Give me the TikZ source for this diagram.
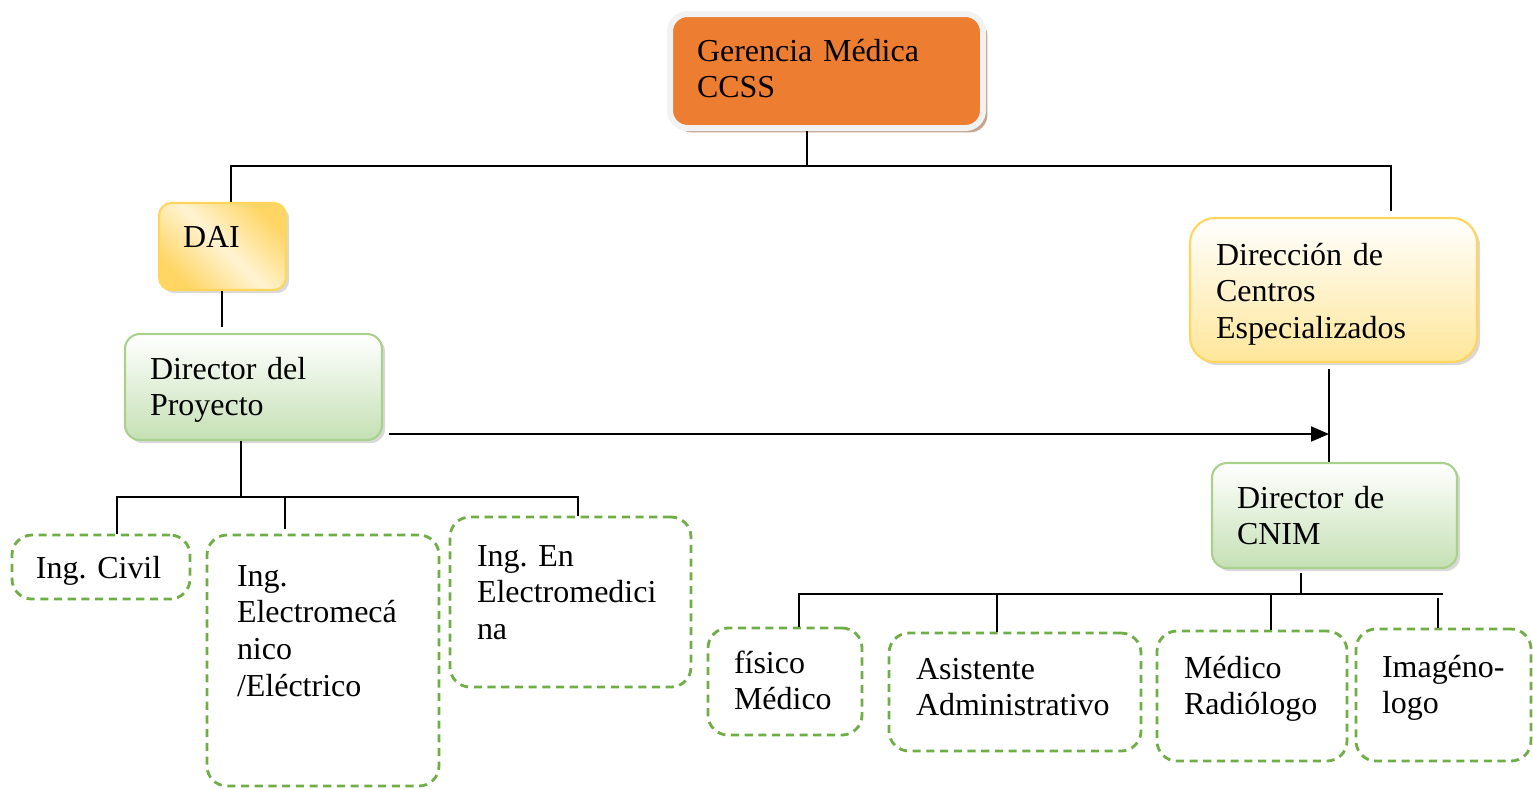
\documentclass[tikz,border=0pt]{standalone}
\usepackage{fontspec}
\setmainfont{Liberation Serif}
\usetikzlibrary{shapes, arrows.meta, calc, positioning, shadows}

\definecolor{gmorange}{HTML}{ED7D31}
\definecolor{gmrim}{HTML}{F2F2F2}
\definecolor{gmshadow}{HTML}{C4A48E}
\definecolor{goldline}{HTML}{FFD55C}
\definecolor{goldfill}{HTML}{FFD564}
\definecolor{creamfill}{HTML}{FFF3D2}
\definecolor{yellowfill}{HTML}{FFE699}
\definecolor{leafline}{HTML}{A9D18E}
\definecolor{leaffill}{HTML}{C5E0B4}
\definecolor{dashgreen}{HTML}{70AD47}

\tikzset{
    unit/.style={
           rectangle,
           rounded corners=0.3cm,
           line width=1.2pt,
           inner xsep=0.5cm,
           inner ysep=0pt,
           align=left,
           text height=0.5cm,
           font=\fontsize{18.2pt}{21pt}\selectfont,
           },
    softshadow/.style={
           drop shadow={shadow xshift=1.8pt, shadow yshift=-1.8pt, opacity=0.3},
           },
    greenunit/.style={
           unit, softshadow,
           draw=leafline,
           top color=white, bottom color=leaffill,
           },
    staff/.style={
           rectangle,
           rounded corners=0.4cm,
           draw=dashgreen, line width=1.6pt,
           dash pattern=on 4.6pt off 3.2pt,
           inner xsep=0.52cm,
           inner ysep=0pt,
           align=left,
           text height=0.5cm,
           font=\fontsize{18.2pt}{21pt}\selectfont,
           },
    link/.style={draw=black, line width=1.1pt},
}

\begin{document}
\begin{tikzpicture}

 \useasboundingbox (0,0) rectangle (30.66,-15.78);

 \node[unit,
  draw=gmrim, line width=0.12cm,
  fill=gmorange,
  rounded corners=0.35cm,
  drop shadow={shadow xshift=2.5pt, shadow yshift=-2.5pt, fill=gmshadow, opacity=1},
  inner xsep=0.54cm,
  minimum width=6.26cm, minimum height=2.28cm,
  text width=5.18cm,
  text depth=0.9cm] (GERENCIA) at (16.53,-1.42)
 {%
  Gerencia~Médica\\CCSS
 };

 \node[unit, softshadow,
  draw=goldline,
  left color=goldfill, right color=goldfill, middle color=creamfill,
  shading angle=135,
  rounded corners=0.25cm,
  inner xsep=0.48cm,
  below of=GERENCIA,
  xshift=-12.08cm,
  yshift=-2.51cm,
  minimum width=2.54cm, minimum height=1.74cm,
  text width=1.58cm,
  text depth=0.48cm] (DAI)
 {%
  DAI
 };

 \node[greenunit,
  below of=DAI,
  xshift=0.62cm,
  yshift=-1.81cm,
  minimum width=5.14cm, minimum height=2.12cm,
  text width=4.14cm,
  text depth=0.82cm] (PROYECTO)
 {%
  Director~del\\Proyecto
 };

 \node[unit, softshadow,
  draw=goldline,
  top color=white, bottom color=yellowfill,
  rounded corners=0.5cm,
  inner xsep=0.52cm,
  right of=GERENCIA,
  xshift=9.14cm,
  yshift=-4.38cm,
  minimum width=5.74cm, minimum height=2.88cm,
  text width=4.7cm,
  text depth=1.5cm] (CENTROS)
 {%
  Dirección~de\\Centros\\Especializados
 };

 \node[greenunit,
  below of=CENTROS,
  xshift=0.02cm,
  yshift=-3.51cm,
  minimum width=4.9cm, minimum height=2.1cm,
  text width=3.9cm,
  text depth=0.8cm] (CNIM)
 {%
  Director~de\\CNIM
 };

 % staff under the project director
 \node[staff,
  below of=PROYECTO,
  xshift=-3.05cm,
  yshift=-2.6cm,
  inner xsep=0.48cm,
  minimum width=3.56cm, minimum height=1.28cm,
  text width=2.6cm,
  text depth=0.06cm] (CIVIL)
 {%
  Ing.~Civil
 };

 \node[staff,
  right of=CIVIL,
  xshift=3.44cm,
  yshift=-1.87cm,
  inner xsep=0.6cm,
  minimum width=4.64cm, minimum height=5.02cm,
  text width=3.44cm,
  text depth=3.48cm] (ELECMEC)
 {%
  Ing.\\Electromecá\\nico\\/Eléctrico
 };

 \node[staff,
  right of=ELECMEC,
  xshift=3.95cm,
  yshift=1.17cm,
  inner xsep=0.54cm,
  minimum width=4.82cm, minimum height=3.4cm,
  text width=3.74cm,
  text depth=1.94cm] (ELECMED)
 {%
  Ing.~En\\Electromedici\\na
 };

 % staff under CNIM
 \node[staff,
  right of=ELECMED,
  xshift=3.29cm,
  yshift=-1.59cm,
  minimum width=3.08cm, minimum height=2.14cm,
  text width=2.04cm,
  text depth=0.84cm] (FISICO)
 {%
  físico\\Médico
 };

 \node[staff,
  right of=FISICO,
  xshift=3.6cm,
  yshift=-0.21cm,
  inner xsep=0.54cm,
  minimum width=5.04cm, minimum height=2.36cm,
  text width=3.96cm,
  text depth=1.02cm] (ASIST)
 {%
  Asistente\\Administrativo
 };

 \node[staff,
  right of=ASIST,
  xshift=3.74cm,
  yshift=-0.08cm,
  inner xsep=0.54cm,
  minimum width=3.8cm, minimum height=2.6cm,
  text width=2.72cm,
  text depth=1.22cm] (RADIO)
 {%
  Médico\\Radiólogo
 };

 \node[staff,
  right of=RADIO,
  xshift=2.83cm,
  yshift=0.02cm,
  minimum width=3.5cm, minimum height=2.64cm,
  text width=2.46cm,
  text depth=1.22cm] (IMAGEN)
 {%
  Imagéno-\\logo
 };

 \coordinate (BUS_TOP) at (16.14,-3.32);
 \coordinate (BUS_LEFT) at (4.82,-9.94);
 \coordinate (BUS_RIGHT) at (26.02,-11.88);
 \coordinate (BUS_RIGHT_END) at (28.86,-11.88);

 \draw[link] (GERENCIA.south -| BUS_TOP) -- (BUS_TOP);
 \draw[link] ([xshift=0.17cm]DAI.north) |- (BUS_TOP) -| ([xshift=1.15cm,yshift=0.12cm]CENTROS.north);

 \draw[link] ([xshift=-0.01cm]DAI.south) -- ($(DAI.south |- PROYECTO.north)+(-0.01,0.12)$);

 \draw[link] (PROYECTO.south -| BUS_LEFT) -- (BUS_LEFT);
 \draw[link] ([xshift=0.32cm]CIVIL.north) |- (BUS_LEFT) -| ([xshift=0.15cm]ELECMED.north);
 \draw[link] ([xshift=-0.76cm,yshift=0.1cm]ELECMEC.north) -- ([xshift=-0.76cm]ELECMEC.north |- BUS_LEFT);

 \draw[link, -{Triangle[length=0.36cm,width=0.3cm]}]
  ([xshift=0.12cm,yshift=-0.94cm]PROYECTO.east) -- ([xshift=-0.09cm,yshift=-0.94cm]CENTROS.south |- PROYECTO.east);
 \draw[link] ([xshift=-0.09cm,yshift=-0.12cm]CENTROS.south) -- ([xshift=-0.09cm]CENTROS.south |- CNIM.north);

 \draw[link] ([yshift=-0.08cm]CNIM.south -| BUS_RIGHT) -- (BUS_RIGHT);
 \draw[link] ([xshift=0.28cm]FISICO.north) |- (BUS_RIGHT_END);
 \draw[link] ([xshift=-0.36cm]ASIST.north) -- ([xshift=-0.36cm]ASIST.north |- BUS_RIGHT);
 \draw[link] ([xshift=0.38cm]RADIO.north) -- ([xshift=0.38cm]RADIO.north |- BUS_RIGHT);
 \draw[link] ([xshift=-0.11cm]IMAGEN.north) -- ([xshift=-0.11cm,yshift=-0.08cm]IMAGEN.north |- BUS_RIGHT);

\end{tikzpicture}
\end{document}
